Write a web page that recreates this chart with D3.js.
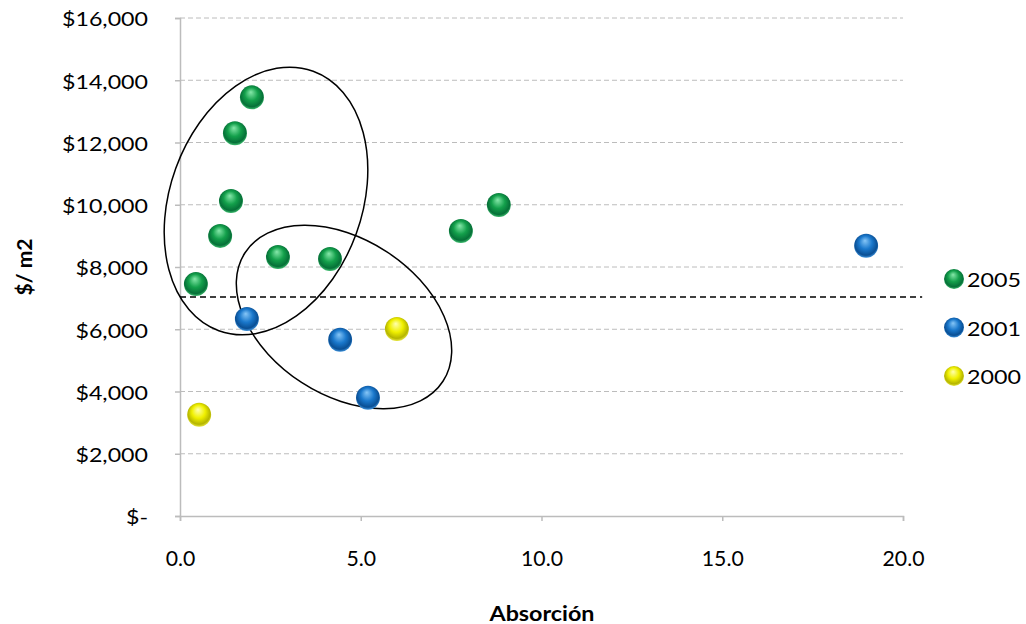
<!DOCTYPE html>
<html>
<head>
<meta charset="utf-8">
<script src="https://cdn.jsdelivr.net/npm/d3@7/dist/d3.min.js"></script>
<style>
  html, body { margin: 0; padding: 0; background: #fff; }
  svg { display: block; }
  text { font-family: Lato, "Open Sans", sans-serif; fill: #000; }
</style>
</head>
<body>
<svg id="chart" width="1026" height="624"></svg>
<script>
// Absorción vs. precio por m2, by year
const series = ["2005", "2001", "2000"];
const absorcion2005 = [1.99, 1.52, 1.41, 1.11, 0.44, 2.71, 4.15, 7.77, 8.82];
const precio2005    = [13450, 12300, 10120, 9000, 7450, 8320, 8260, 9160, 9990];
const absorcion2001 = [1.85, 4.43, 5.20, 18.98];
const precio2001    = [6330, 5660, 3800, 8680];
const absorcion2000 = [0.53, 6.00];
const precio2000    = [3250, 6010];
const xTicks = [0, 5, 10, 15, 20];
const yTicks = [0, 2000, 4000, 6000, 8000, 10000, 12000, 14000, 16000];
const promedio = 7040;

const colors = {
  "2005": { base: "#13a04b", light: "#86e8aa", dark: "#067038", rim: "#3dbb6e" },
  "2001": { base: "#1a78cc", light: "#86c6f7", dark: "#0a4f94", rim: "#3f93dc" },
  "2000": { base: "#f0f000", light: "#ffffb0", dark: "#b5b500", rim: "#e6e640" }
};
const fontStack = "Lato, 'Open Sans', sans-serif";

const svg = d3.select("#chart");
const plot = { left: 180, right: 903, top: 18, bottom: 516 };

const x = d3.scaleLinear().domain([0, 20]).range([plot.left, plot.right]);
const y = d3.scaleLinear().domain([0, 16000]).range([plot.bottom, plot.top]);

// widen a group of labels by the factor that brings the sample label to the given width
function stretchTo(sel, sampleNode, width) {
  const k = width / sampleNode.getComputedTextLength();
  sel.each(function () {
    const w = this.getComputedTextLength();
    d3.select(this).attr("textLength", w * k).attr("lengthAdjust", "spacingAndGlyphs");
  });
}

// gradients for the shaded markers
const defs = svg.append("defs");
series.forEach(s => {
  const g = defs.append("radialGradient").attr("id", "g" + s)
    .attr("cx", "50%").attr("cy", "45%").attr("r", "55%").attr("fx", "45%").attr("fy", "28%");
  g.append("stop").attr("offset", "0%").attr("stop-color", colors[s].light);
  g.append("stop").attr("offset", "50%").attr("stop-color", colors[s].base);
  g.append("stop").attr("offset", "85%").attr("stop-color", colors[s].dark);
  g.append("stop").attr("offset", "100%").attr("stop-color", colors[s].rim);
});

// horizontal gridlines
svg.append("g").selectAll("line").data(yTicks.filter(d => d > 0)).join("line")
  .attr("x1", plot.left).attr("x2", plot.right)
  .attr("y1", d => y(d)).attr("y2", d => y(d))
  .attr("stroke", "#bcbcbc").attr("stroke-width", 1).attr("stroke-dasharray", "5,3");

// axes
const fmtY = d => d === 0 ? "$-" : "$" + d3.format(",")(d);
const yAxis = svg.append("g").attr("transform", `translate(${plot.left},0)`)
  .call(d3.axisLeft(y).tickValues(yTicks).tickFormat(fmtY).tickSize(5).tickPadding(27));
const xAxis = svg.append("g").attr("transform", `translate(0,${plot.bottom})`)
  .call(d3.axisBottom(x).tickValues(xTicks).tickFormat(d3.format(".1f")).tickSize(5).tickPadding(29));
[yAxis, xAxis].forEach(a => {
  a.select(".domain").attr("stroke", "#bcbcbc").attr("stroke-width", 1.5);
  a.selectAll(".tick line").attr("stroke", "#bcbcbc").attr("stroke-width", 1.5);
  a.selectAll("text").style("font-family", fontStack);
});
const yLabels = yAxis.selectAll(".tick text").attr("font-size", 19).attr("dy", "0.42em");
const xLabels = xAxis.selectAll(".tick text").attr("font-size", 22);
stretchTo(yLabels, yLabels.filter(d => d === 16000).node(), 86);
stretchTo(xLabels, xLabels.filter(d => d === 10).node(), 42);

// axis titles
const xTitle = svg.append("text").attr("x", 542).attr("y", 621).attr("text-anchor", "middle")
  .attr("font-size", 21).attr("font-weight", "bold").text("Absorción");
const yTitle = svg.append("text").attr("transform", "translate(32,267) rotate(-90)").attr("text-anchor", "middle")
  .attr("font-size", 21).attr("font-weight", "bold").text("$/ m2");
stretchTo(xTitle, xTitle.node(), 105);
stretchTo(yTitle, yTitle.node(), 57);

// average reference line
svg.append("line").attr("x1", x(0)).attr("x2", x(20.53))
  .attr("y1", y(promedio)).attr("y2", y(promedio))
  .attr("stroke", "#000").attr("stroke-width", 1.5).attr("stroke-dasharray", "6,4");

// grouping ellipses
const ellipses = [
  { cx: 266, cy: 201, rx: 96, ry: 138, rot: 20 },
  { cx: 344, cy: 317, rx: 118, ry: 78, rot: 33 }
];
svg.append("g").selectAll("ellipse").data(ellipses).join("ellipse")
  .attr("cx", 0).attr("cy", 0).attr("rx", d => d.rx).attr("ry", d => d.ry)
  .attr("transform", d => `translate(${d.cx},${d.cy}) rotate(${d.rot})`)
  .attr("fill", "none").attr("stroke", "#000").attr("stroke-width", 1.5);

// points
const data = [
  { s: "2005", xs: absorcion2005, ys: precio2005 },
  { s: "2001", xs: absorcion2001, ys: precio2001 },
  { s: "2000", xs: absorcion2000, ys: precio2000 }
];
data.forEach(d => {
  svg.append("g").selectAll("circle").data(d.xs.map((v, i) => [v, d.ys[i]])).join("circle")
    .attr("cx", p => x(p[0])).attr("cy", p => y(p[1])).attr("r", 12)
    .attr("fill", `url(#g${d.s})`);
});

// legend
const legend = svg.append("g").selectAll("g").data(series).join("g")
  .attr("transform", (d, i) => `translate(954,${279 + i * 48.5})`);
legend.append("circle").attr("r", 10).attr("fill", d => `url(#g${d})`);
const legendText = legend.append("text").attr("x", 13).attr("y", 8).attr("font-size", 19).text(d => d);
stretchTo(legendText, legendText.node(), 54);
</script>
</body>
</html>
